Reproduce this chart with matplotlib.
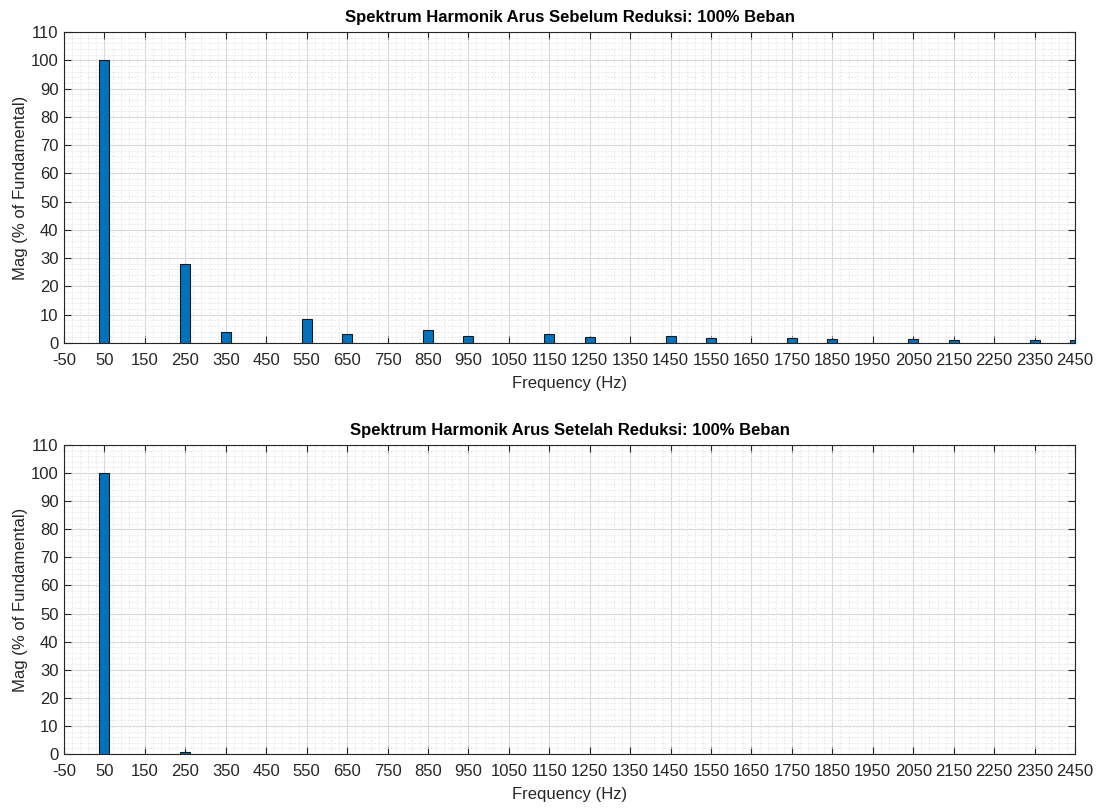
import matplotlib
matplotlib.use("Agg")
import matplotlib.pyplot as plt
import numpy as np
from matplotlib.ticker import MultipleLocator, AutoMinorLocator

plt.rcParams['font.family'] = ['Liberation Sans', 'DejaVu Sans']
plt.rcParams['axes.unicode_minus'] = False

freq_before = [50, 250, 350, 550, 650, 850, 950, 1150, 1250, 1450, 1550, 1750, 1850, 2050, 2150, 2350, 2450]
mag_before = [100, 27.9, 3.8, 8.4, 3.1, 4.5, 2.4, 3.1, 2.0, 2.4, 1.7, 1.7, 1.3, 1.3, 0.95, 0.95, 0.9]

freq_after = [50, 250]
mag_after = [100, 0.8]

titles = ["Spektrum Harmonik Arus Sebelum Reduksi: 100% Beban",
          "Spektrum Harmonik Arus Setelah Reduksi: 100% Beban"]
xlabel = "Frequency (Hz)"
ylabel = "Mag (% of Fundamental)"
xticks = list(range(-50, 2451, 100))
yticks = list(range(0, 111, 10))

fig = plt.figure(figsize=(10.99, 8.10), dpi=100)
W, H = 1099, 810
axes_px = [(64, 32, 1075, 343), (64, 445, 1075, 754)]

for (l, t, r, b), fr, mg, title in zip(axes_px, [freq_before, freq_after], [mag_before, mag_after], titles):
    ax = fig.add_axes([l / W, 1 - b / H, (r - l) / W, (b - t) / H])
    ax.bar(fr, mg, width=25, color='#0072BD', edgecolor='#1a1a1a', linewidth=0.8, zorder=3)
    ax.set_xlim(-50, 2450)
    ax.set_ylim(0, 110)
    ax.set_xticks(xticks)
    ax.set_yticks(yticks)
    ax.xaxis.set_minor_locator(AutoMinorLocator(5))
    ax.yaxis.set_minor_locator(AutoMinorLocator(5))
    ax.grid(which='major', color='#d9d9d9', linewidth=0.8, zorder=0)
    ax.grid(which='minor', color='#e3e3e3', linestyle=(0, (2, 2)), linewidth=0.6, zorder=0)
    ax.set_axisbelow(True)
    ax.tick_params(which='major', direction='in', length=5, top=True, right=True,
                   labelsize=12, colors='#262626', width=0.8)
    ax.tick_params(axis='x', which='major', pad=7)
    ax.tick_params(axis='y', which='major', pad=4)
    ax.tick_params(which='minor', length=0)
    for s in ax.spines.values():
        s.set_color('#262626')
        s.set_linewidth(0.8)
    ax.set_title(title, fontsize=12, fontweight='bold', pad=7)
    ax.set_xlabel(xlabel, fontsize=12, color='#262626', labelpad=6)
    ax.set_ylabel(ylabel, fontsize=12, color='#262626', labelpad=2)

fig.savefig("out.png", dpi=100)
